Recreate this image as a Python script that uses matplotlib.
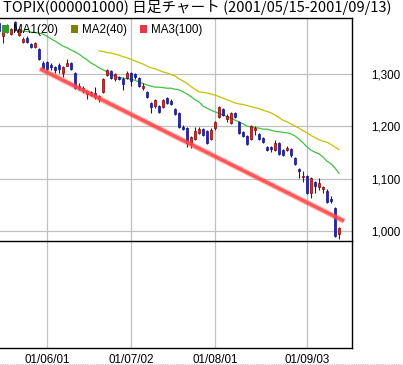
import numpy as np
import pandas as pd
import matplotlib
matplotlib.use("Agg")
import matplotlib.pyplot as plt
from matplotlib.patches import Patch

# trading days shown (2001/05/16 - 2001/09/13, Marine Day 07/20 closed)
days = pd.bdate_range("2001-05-16", "2001-09-13")
days = days[days != pd.Timestamp("2001-07-20")]

opens = [1396, 1371, 1379, 1375, 1398, 1373, 1360, 1368, 1356, 1350, 1347, 1320,
         1322, 1316, 1312, 1316, 1301, 1314, 1320, 1301, 1276, 1269, 1261, 1259,
         1263, 1251, 1265, 1297, 1305, 1290, 1293, 1290, 1291, 1301, 1299, 1291,
         1272, 1265, 1244, 1238, 1238, 1236, 1253, 1248, 1232, 1225, 1198, 1196,
         1166, 1175, 1187, 1194, 1190, 1175, 1196, 1217, 1232, 1213, 1206, 1225,
         1208, 1189, 1181, 1175, 1192, 1185, 1177, 1160, 1160, 1154, 1168, 1154,
         1154, 1156, 1139, 1118, 1103, 1105, 1072, 1093, 1084, 1080, 1076, 1061,
         1044, 994]
highs = [1398, 1392, 1394, 1387, 1400, 1387, 1370, 1371, 1358, 1360, 1349, 1324,
         1324, 1320, 1314, 1320, 1314, 1328, 1322, 1303, 1282, 1276, 1269, 1267,
         1274, 1259, 1291, 1309, 1307, 1301, 1295, 1293, 1305, 1303, 1301, 1293,
         1282, 1267, 1246, 1251, 1240, 1251, 1255, 1251, 1234, 1227, 1202, 1198,
         1181, 1198, 1198, 1196, 1192, 1196, 1210, 1238, 1234, 1223, 1227, 1227,
         1210, 1190, 1183, 1202, 1200, 1187, 1179, 1162, 1162, 1173, 1170, 1156,
         1162, 1158, 1141, 1120, 1114, 1107, 1103, 1095, 1101, 1086, 1080, 1067,
         1046, 1008]
lows = [1377, 1358, 1377, 1373, 1381, 1371, 1358, 1358, 1349, 1349, 1326, 1309,
        1307, 1307, 1301, 1301, 1293, 1314, 1307, 1270, 1269, 1263, 1251, 1257,
        1251, 1246, 1263, 1295, 1290, 1286, 1288, 1269, 1290, 1276, 1290, 1274,
        1269, 1253, 1225, 1234, 1225, 1234, 1242, 1240, 1221, 1196, 1192, 1160,
        1158, 1173, 1185, 1181, 1166, 1173, 1192, 1215, 1219, 1208, 1204, 1215,
        1185, 1179, 1164, 1173, 1183, 1173, 1168, 1152, 1150, 1152, 1145, 1143,
        1152, 1141, 1126, 1101, 1093, 1070, 1063, 1072, 1078, 1072, 1053, 1053,
        989, 985]
closes = [1381, 1387, 1392, 1385, 1383, 1385, 1366, 1360, 1350, 1358, 1328, 1310,
          1309, 1312, 1307, 1309, 1312, 1320, 1309, 1272, 1270, 1272, 1267, 1265,
          1255, 1257, 1290, 1307, 1291, 1299, 1290, 1280, 1301, 1286, 1293, 1276,
          1276, 1255, 1236, 1250, 1227, 1250, 1244, 1242, 1223, 1198, 1194, 1168,
          1179, 1190, 1194, 1183, 1168, 1192, 1208, 1236, 1221, 1219, 1225, 1217,
          1187, 1181, 1166, 1200, 1196, 1175, 1170, 1154, 1156, 1168, 1147, 1145,
          1158, 1145, 1128, 1114, 1105, 1072, 1101, 1086, 1091, 1084, 1055, 1057,
          990, 1006]

# moving averages as drawn (first value at day position ma1_from / ma2_from)
ma1_from = 5
ma1 = [1381, 1381, 1380, 1379, 1378, 1377, 1375, 1371, 1366, 1362, 1357, 1352,
       1349, 1345, 1341, 1337, 1331, 1326, 1320, 1316, 1311, 1307, 1303, 1298,
       1295, 1292, 1291, 1290, 1289, 1287, 1284, 1281, 1278, 1276, 1274, 1274,
       1273, 1272, 1272, 1270, 1269, 1265, 1261, 1256, 1250, 1246, 1238, 1234,
       1230, 1227, 1224, 1221, 1218, 1215, 1211, 1208, 1204, 1200, 1198, 1197,
       1196, 1194, 1194, 1192, 1190, 1189, 1188, 1187, 1185, 1181, 1175, 1168,
       1160, 1154, 1150, 1147, 1141, 1133, 1128, 1120, 1110]
ma2_from = 25
ma2 = [1343, 1342, 1340, 1339, 1337, 1335, 1332, 1330, 1327, 1324, 1321, 1318,
       1314, 1311, 1309, 1306, 1303, 1301, 1298, 1295, 1290, 1286, 1281, 1275,
       1270, 1265, 1264, 1263, 1261, 1259, 1256, 1253, 1250, 1247, 1244, 1242,
       1241, 1239, 1237, 1235, 1233, 1230, 1228, 1225, 1221, 1216, 1211, 1208,
       1204, 1200, 1196, 1191, 1187, 1182, 1178, 1174, 1171, 1169, 1165, 1160,
       1155]

trend_pos = [10.25, 86.25]
trend_val = [1309, 1019]

tick_dates = ["2001-06-01", "2001-07-02", "2001-08-01", "2001-09-03"]
tick_labels = ["01/06/01", "01/07/02", "01/08/01", "01/09/03"]
y_ticks = [1000, 1100, 1200, 1300]
y_labels = ["1,000", "1,100", "1,200", "1,300"]

legend_names = ["MA1(20)", "MA2(40)", "MA3(100)"]
legend_cols = ["#339933", "#808000", "#e8364f"]

sans = ["Liberation Sans", "DejaVu Sans"]
fs = 8.4

W, H = 403, 365
fig = plt.figure(figsize=(W / 100, H / 100), dpi=100)
ax2 = fig.add_axes([0, (H - 348) / H, 352 / W, 107 / H])
ax = fig.add_axes([0, (H - 241) / H, 352 / W, 223 / H], sharex=ax2)
ax2.patch.set_visible(False)

x = np.arange(len(days))
o = np.array(opens); c = np.array(closes)
up = c >= o
body_col = np.where(up, "#d42a2a", "#2222cc")
edge_col = np.where(up, "#8a0000", "#10108a")

ax.vlines(x, lows, highs, colors=edge_col, linewidth=0.8, zorder=3)
ax.bar(x, np.maximum(np.abs(c - o), 1.5), bottom=np.minimum(o, c), width=0.72,
       color=body_col, edgecolor=edge_col, linewidth=0.5, zorder=4)

ax.plot(np.arange(ma1_from, ma1_from + len(ma1)), ma1, color="#44c044", lw=0.9, zorder=2)
ax.plot(np.arange(ma2_from, ma2_from + len(ma2)), ma2, color="#c8c000", lw=0.9, zorder=2)

ax.plot(trend_pos, trend_val, color="#ff5050", lw=4.3, alpha=0.3,
        solid_capstyle="butt", zorder=5)
ax.plot(trend_pos, trend_val, color="#ff4646", lw=2.6, alpha=0.85,
        solid_capstyle="butt", zorder=5)

tick_pos = [list(days).index(pd.Timestamp(d)) for d in tick_dates]

for a in (ax, ax2):
    a.set_xlim(0.25, 88.25)
    for t in tick_pos:
        a.axvline(t, color="#c0c0c0", lw=0.9, zorder=0)
    a.spines["left"].set_visible(False)
    for s in ("top", "right", "bottom"):
        a.spines[s].set_linewidth(1.0)
        a.spines[s].set_color("black")
        a.spines[s].set_zorder(6)
    a.tick_params(length=0)

ax.set_ylim(981, 1405.7)
for v in y_ticks:
    ax.axhline(v, color="#c0c0c0", lw=0.9, zorder=0)
ax.yaxis.tick_right()
ax.set_yticks(y_ticks, y_labels)
ax.tick_params(axis="y", pad=13.5, labelsize=fs)
for lb in ax.get_yticklabels():
    lb.set_family(sans)
ax.tick_params(axis="x", labelbottom=False)

ax2.set_yticks([])
ax2.spines["top"].set_visible(False)
ax2.set_xticks(tick_pos, tick_labels)
ax2.tick_params(axis="x", pad=4, labelsize=fs)
for lb in ax2.get_xticklabels():
    lb.set_family(sans)

handles = [Patch(facecolor=col, edgecolor="none") for col in legend_cols]
ax.legend(handles, legend_names, loc="upper left", bbox_to_anchor=(2 / 352, 1 - 6 / 223),
          ncol=3, frameon=False, handlelength=0.62, handleheight=0.62,
          handletextpad=0.35, columnspacing=1.1, borderpad=0, borderaxespad=0,
          prop={"family": sans, "size": fs})

fig.text(3 / W, 1 - 7.5 / H, "TOPIX(000001000) 日足チャート (2001/05/15-2001/09/13)",
         ha="left", va="center", fontsize=10.5, family=["Noto Sans CJK JP", "DejaVu Sans"])

fig.add_artist(plt.Line2D([0, 1], [1.5 / H, 1.5 / H], transform=fig.transFigure,
                          color="#c8c8c8", lw=0.8, ls=(0, (1, 1))))

fig.savefig("out.png", dpi=100)
